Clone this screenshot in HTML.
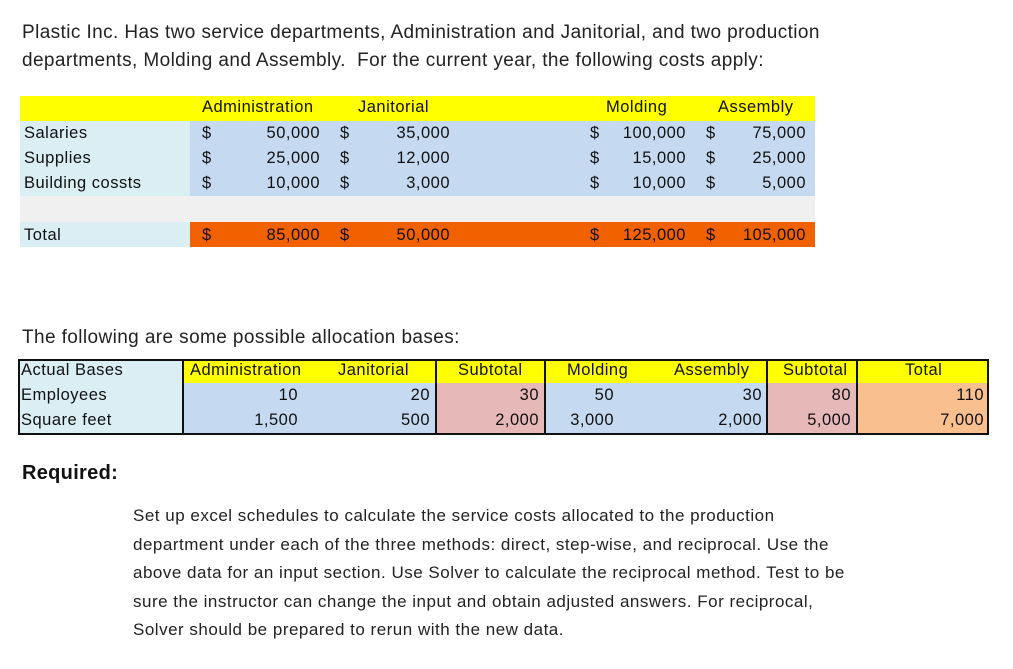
<!DOCTYPE html>
<html><head><meta charset="utf-8">
<style>
body{margin:0;width:1013px;height:669px;background:#fff;font-family:"Liberation Sans",sans-serif;color:#222;position:relative;overflow:hidden}
.a{position:absolute;white-space:nowrap}
.t{font-size:19px;letter-spacing:0.4px}
.c{font-size:16.5px;letter-spacing:0.5px;color:#111}
.r{text-align:right}
.p{font-size:17px;letter-spacing:0.5px;line-height:28.5px}
.box{position:absolute;box-sizing:border-box}
</style></head><body>
<div class="a t" style="left:22px;top:19px;line-height:28px">Plastic Inc. Has two service departments, Administration and Janitorial, and two production<br>departments, Molding and Assembly.&nbsp; For the current year, the following costs apply:</div>

<div>
<div class="box" style="left:20px;top:96px;width:795px;height:25px;background:#ffff00"></div>
<div class="box" style="left:20px;top:121px;width:170px;height:75px;background:#daeef3"></div>
<div class="box" style="left:190px;top:121px;width:625px;height:75px;background:#c5d9f1"></div>
<div class="box" style="left:20px;top:196px;width:795px;height:26px;background:#f0f0f0"></div>
<div class="box" style="left:20px;top:222px;width:170px;height:25px;background:#daeef3"></div>
<div class="box" style="left:190px;top:222px;width:625px;height:25px;background:#f26100"></div>
<div class="a c" style="left:202px;top:98px">Administration</div>
<div class="a c" style="left:358px;top:98px">Janitorial</div>
<div class="a c" style="left:606px;top:98px">Molding</div>
<div class="a c" style="left:718px;top:98px">Assembly</div>
<div class="a c" style="left:24px;top:124px">Salaries</div>
<div class="a c" style="left:24px;top:149px">Supplies</div>
<div class="a c" style="left:24px;top:174px">Building cossts</div>
<div class="a c" style="left:24px;top:226px">Total</div>
</div>
<div id="top-values"></div>

<div class="a t" style="left:22px;top:327px">The following are some possible allocation bases:</div>

<div>
<div class="box" style="left:18px;top:360px;width:165px;height:73px;background:#daeef3"></div>
<div class="box" style="left:183px;top:360px;width:805px;height:23px;background:#ffff00"></div>
<div class="box" style="left:183px;top:383px;width:253px;height:50px;background:#c5d9f1"></div>
<div class="box" style="left:436px;top:383px;width:109px;height:50px;background:#e6b8b7"></div>
<div class="box" style="left:545px;top:383px;width:222px;height:50px;background:#c5d9f1"></div>
<div class="box" style="left:767px;top:383px;width:90px;height:50px;background:#e6b8b7"></div>
<div class="box" style="left:857px;top:383px;width:131px;height:50px;background:#fabf8f"></div>
<div class="box" style="left:18px;top:359px;width:971px;height:76px;border:2px solid #111"></div>
<div class="box" style="left:182px;top:359px;width:2px;height:76px;background:#111"></div>
<div class="box" style="left:435px;top:359px;width:2px;height:76px;background:#111"></div>
<div class="box" style="left:544px;top:359px;width:2px;height:76px;background:#111"></div>
<div class="box" style="left:766px;top:359px;width:2px;height:76px;background:#111"></div>
<div class="box" style="left:856px;top:359px;width:2px;height:76px;background:#111"></div>
<div class="a c" style="left:21px;top:361px">Actual Bases</div>
<div class="a c" style="left:21px;top:386px">Employees</div>
<div class="a c" style="left:21px;top:411px">Square feet</div>
<div class="a c" style="left:190px;top:361px">Administration</div>
<div class="a c" style="left:338px;top:361px">Janitorial</div>
<div class="a c" style="left:458px;top:361px">Subtotal</div>
<div class="a c" style="left:567px;top:361px">Molding</div>
<div class="a c" style="left:674px;top:361px">Assembly</div>
<div class="a c" style="left:783px;top:361px">Subtotal</div>
<div class="a c" style="left:905px;top:361px">Total</div>
</div>
<div id="base-values"></div>

<div class="a" style="left:22px;top:462px;font-size:20px;font-weight:bold;letter-spacing:0.3px;color:#111">Required:</div>
<div class="a p" style="left:133px;top:502px">Set up excel schedules to calculate the service costs allocated to the production<br>department under each of the three methods: direct, step-wise, and reciprocal. Use the<br>above data for an input section. Use Solver to calculate the reciprocal method. Test to be<br>sure the instructor can change the input and obtain adjusted answers. For reciprocal,<br>Solver should be prepared to rerun with the new data.</div>

<script>
const costRows = ["Salaries","Supplies","Building cossts","Total"];
const adminCosts = [50000,25000,10000,85000];
const janitorialCosts = [35000,12000,3000,50000];
const moldingCosts = [100000,15000,10000,125000];
const assemblyCosts = [75000,25000,5000,105000];
const employees = [10,20,30,50,30,80,110];
const squareFeet = [1500,500,2000,3000,2000,5000,7000];
const fmt = v => v.toLocaleString("en-US");
const topBox = document.getElementById("top-values");
const rowY = [124,149,174,226];
const cols = [[adminCosts,202,320],[janitorialCosts,340,450],[moldingCosts,590,686],[assemblyCosts,706,806]];
cols.forEach(([arr,dx,rx])=>{
  arr.forEach((v,i)=>{
    const d=document.createElement("div");
    d.className="a c";d.style.left=dx+"px";d.style.top=rowY[i]+"px";d.textContent="$";
    
    
    topBox.appendChild(d);
    const n=document.createElement("div");
    n.className="a c r";n.style.left=(rx-100)+"px";n.style.width="100px";n.style.top=rowY[i]+"px";n.textContent=fmt(v);
    
    
    topBox.appendChild(n);
  });
});
const baseBox = document.getElementById("base-values");
const rightEdges = [298,430,539,614,762,851,984];
[[employees,386],[squareFeet,411]].forEach(([arr,y])=>{
  arr.forEach((v,i)=>{
    const n=document.createElement("div");
    n.className="a c r";n.style.left=(rightEdges[i]-100)+"px";n.style.width="100px";n.style.top=y+"px";n.textContent=fmt(v);
    
    
    baseBox.appendChild(n);
  });
});
</script>
</body></html>
